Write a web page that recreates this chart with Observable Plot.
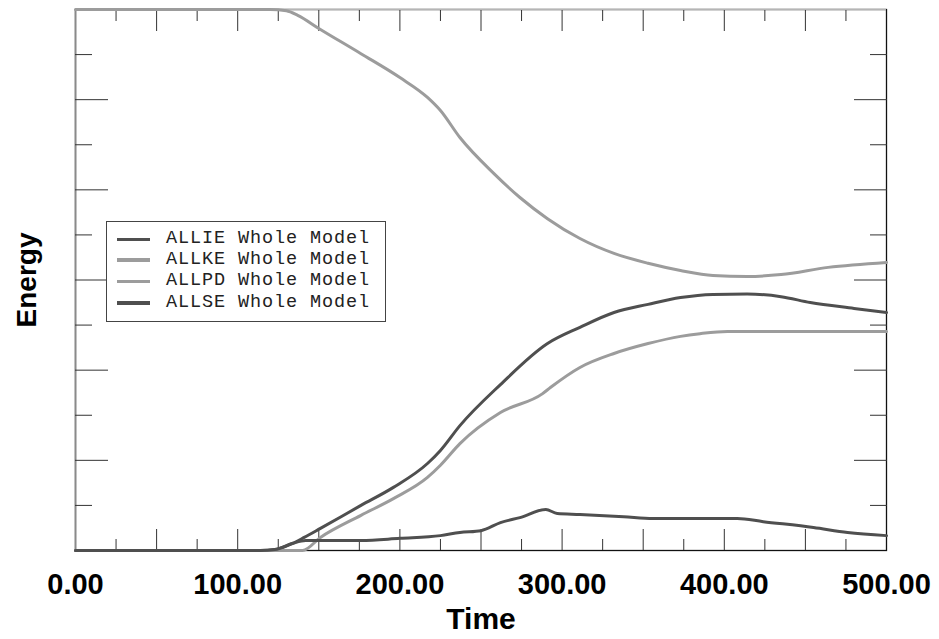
<!DOCTYPE html>
<html><head><meta charset="utf-8">
<script src="https://cdn.jsdelivr.net/npm/d3@7"></script>
<script src="https://cdn.jsdelivr.net/npm/@observablehq/plot@0.6"></script>
<style>
body{margin:0;background:#fff;}
#wrap{position:relative;width:939px;height:639px;overflow:hidden;}
#legend{position:absolute;left:106px;top:221px;width:280px;height:101px;border:1.3px solid #444;background:#fff;box-sizing:border-box;}
.row{position:absolute;left:0;height:20px;line-height:20px;font-family:"Liberation Mono","Courier New",monospace;font-size:18.5px;letter-spacing:0.9px;color:#222;white-space:pre;}
.sw{position:absolute;left:10px;top:8.5px;width:33px;height:3.5px;}
.lab{position:absolute;left:59px;top:0;}
#ylab{position:absolute;left:27px;top:279.5px;transform:translate(-50%,-50%) rotate(-90deg);font-family:"Liberation Sans",Arial,sans-serif;font-weight:bold;font-size:28px;color:#000;white-space:nowrap;line-height:1;}
</style>
</head><body><div id="wrap"></div>
<script>
const seriesNames = ["ALLIE Whole Model","ALLKE Whole Model","ALLPD Whole Model","ALLSE Whole Model"];
const seriesColors = ["#4f4f4f","#9c9c9c","#9c9c9c","#4f4f4f"];

const allieTime = [0,114,123,134,141,151,176,196,217,225,237,262,291,311,332,353,373,393,414,435,453,480,500];
const allieEnergy = [0,0,0.02,0.16,0.29,0.49,1.0,1.40,1.93,2.22,2.77,3.68,4.59,4.95,5.28,5.46,5.61,5.68,5.69,5.63,5.50,5.37,5.28];

const allkeTime = [0,120,130,137,150,176,200,217,225,237,258,274,291,311,332,353,373,393,414,435,464,500];
const allkeEnergy = [12.0,12.0,11.97,11.87,11.58,11.02,10.49,10.05,9.76,9.16,8.36,7.83,7.36,6.92,6.59,6.37,6.21,6.10,6.08,6.12,6.28,6.39];

const allpdTime = [0,136,140,151,176,196,217,225,237,262,288,293,311,332,353,373,385,402,500];
const allpdEnergy = [0,0,0.0,0.29,0.78,1.15,1.62,1.89,2.37,3.06,3.48,3.62,4.06,4.37,4.59,4.75,4.81,4.86,4.86];

const allseTime = [0,114,123,134,142,176,200,225,237,250,262,274,290,297,311,338,356,408,424,455,476,500];
const allseEnergy = [0,0,0.02,0.16,0.22,0.22,0.27,0.33,0.40,0.44,0.62,0.73,0.91,0.82,0.80,0.75,0.71,0.71,0.64,0.51,0.40,0.33];

const xLabelTicks = [0,100,200,300,400,500];
const xMajorTicks = [50,100,150,200,250,300,350,400,450];
const xMinorTicks = [25,75,125,175,225,275,325,375,425,475];
const yMajorTicks = [2,4,6,8,10];
const yMinorTicks = [1,3,5,7,9,11];
const xTitle = "Time";
const yTitle = "Energy";

const seriesTimes = [allieTime, allkeTime, allpdTime, allseTime];
const seriesEnergies = [allieEnergy, allkeEnergy, allpdEnergy, allseEnergy];
const data = seriesNames.flatMap((s, i) => seriesTimes[i].map((t, j) => ({series: s, time: t, energy: seriesEnergies[i][j]})));

const tickStroke = "#333";
const blank = () => "";

const chart = Plot.plot({
  width: 939, height: 639,
  marginLeft: 75, marginRight: 53, marginTop: 9, marginBottom: 89,
  x: {domain: [0, 500]},
  y: {domain: [0, 12]},
  color: {domain: seriesNames, range: seriesColors},
  style: {fontFamily: "'Liberation Sans', Arial, sans-serif", background: "#fff", color: "#000"},
  marks: [
    Plot.frame({stroke: "#111", strokeWidth: 1.3}),
    Plot.ruleX([0], {stroke: "#8a8a8a", strokeWidth: 1.6}),
    Plot.ruleY([12], {stroke: "#b5b5b5", strokeWidth: 1.3}),
    Plot.axisX(xMajorTicks, {anchor: "bottom", tickSize: -21, tickFormat: blank, label: null, stroke: tickStroke}),
    Plot.axisX(xMinorTicks, {anchor: "bottom", tickSize: -11, tickFormat: blank, label: null, stroke: tickStroke}),
    Plot.axisX(xMajorTicks, {anchor: "top", tickSize: -21, tickFormat: blank, label: null, stroke: tickStroke}),
    Plot.axisX(xMinorTicks, {anchor: "top", tickSize: -11, tickFormat: blank, label: null, stroke: tickStroke}),
    Plot.axisY(yMajorTicks, {anchor: "left", tickSize: -33, tickFormat: blank, label: null, stroke: tickStroke}),
    Plot.axisY(yMinorTicks, {anchor: "left", tickSize: -17, tickFormat: blank, label: null, stroke: tickStroke}),
    Plot.axisY(yMajorTicks, {anchor: "right", tickSize: -33, tickFormat: blank, label: null, stroke: tickStroke}),
    Plot.axisY(yMinorTicks, {anchor: "right", tickSize: -17, tickFormat: blank, label: null, stroke: tickStroke}),
    Plot.axisX(xLabelTicks, {anchor: "bottom", tickSize: 0, tickPadding: 23, tickFormat: d3.format(".2f"), label: null, fontSize: 29, fontWeight: "bold", fill: "#000"}),
    Plot.line(data, {x: "time", y: "energy", z: "series", stroke: "series", strokeWidth: 3, curve: "monotone-x"}),
    Plot.text([xTitle], {frameAnchor: "bottom", dy: 78, fontSize: 30, fontWeight: "bold", fill: "#000"})
  ]
});
const wrap = document.getElementById("wrap");
wrap.appendChild(chart);

const ylab = document.createElement("div");
ylab.id = "ylab";
ylab.textContent = yTitle;
wrap.appendChild(ylab);

const legend = document.createElement("div");
legend.id = "legend";
const rowTops = [228, 248.5, 270, 291.5];
seriesNames.forEach((s, i) => {
  const row = document.createElement("div");
  row.className = "row";
  row.style.top = (rowTops[i] - 221) + "px";
  const sw = document.createElement("div");
  sw.className = "sw";
  sw.style.background = seriesColors[i];
  const lab = document.createElement("div");
  lab.className = "lab";
  lab.textContent = s;
  row.appendChild(sw); row.appendChild(lab);
  legend.appendChild(row);
});
wrap.appendChild(legend);
</script>
</body></html>
